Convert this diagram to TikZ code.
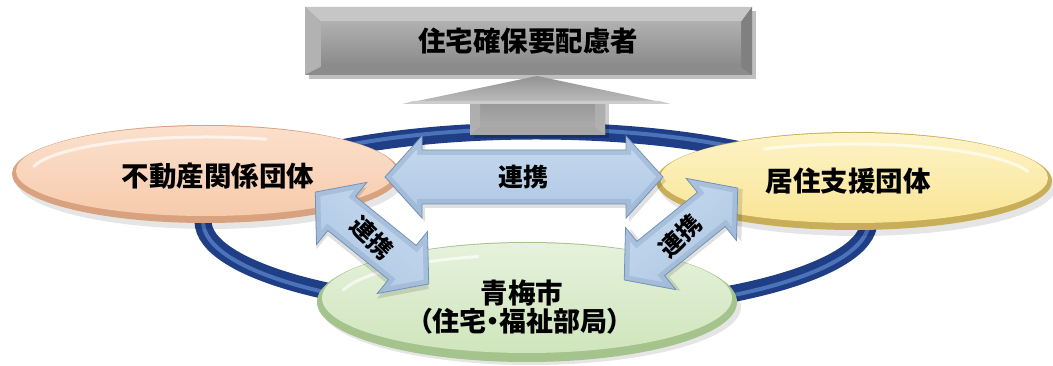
\documentclass[tikz,border=0pt]{standalone}
\usepackage{fontspec}
\newfontfamily\jp{Noto Sans CJK JP}
\newfontfamily\jpp{Noto Sans CJK JP}[RawFeature=+palt]
\definecolor{ringdark}{HTML}{1F3E85}
\definecolor{ringlight}{HTML}{5A85CC}
\definecolor{boxbase}{HTML}{7A7A7A}
\definecolor{peachhi}{HTML}{FBE0CD}
\definecolor{peachmid}{HTML}{F7CBAC}
\definecolor{peachrim}{HTML}{D9A27F}
\definecolor{yelhi}{HTML}{FDF3C6}
\definecolor{yelmid}{HTML}{F9E595}
\definecolor{yelrim}{HTML}{C9AE5A}
\definecolor{grnhi}{HTML}{E6F2DC}
\definecolor{grnmid}{HTML}{CFE5BC}
\definecolor{grnrim}{HTML}{A5C38C}
\definecolor{arrowtop}{HTML}{C6DAEF}
\definecolor{arrowmid}{HTML}{EDF4FB}
\definecolor{arrowbot}{HTML}{AFC7E3}
\definecolor{arrowedge}{HTML}{92ADCD}
\definecolor{arrowline}{HTML}{7492B6}
\tikzset{
  lbl/.style={font=\jp\bfseries\fontsize{27.5}{30}\selectfont, text=black, inner sep=0pt},
  smalllbl/.style={font=\jp\bfseries\fontsize{24}{28}\selectfont, text=black, inner sep=0pt},
  ellshadow/.style={fill=black, opacity=0.10},
  hilite/.style={draw=white, line width=3pt, opacity=0.65, line cap=round},
}
% double arrow: center x, center y, angle, half length, shaft half width, head half width, head length
\newcommand\bluearrow[7]{%
\begin{scope}[shift={(#1,#2)},rotate=#3]
  \fill[black, opacity=0.12, shift={(3,-4)}] (-#4,0) -- (-#4+#7,#6) -- (-#4+#7,#5) -- (#4-#7,#5) -- (#4-#7,#6) -- (#4,0) -- (#4-#7,-#6) -- (#4-#7,-#5) -- (-#4+#7,-#5) -- (-#4+#7,-#6) -- cycle;
  \shade[top color=arrowtop, middle color=arrowmid, bottom color=arrowbot, shading angle=#3] (-#4,0) -- (-#4+#7,#6) -- (-#4+#7,#5) -- (#4-#7,#5) -- (#4-#7,#6) -- (#4,0) -- (#4-#7,-#6) -- (#4-#7,-#5) -- (-#4+#7,-#5) -- (-#4+#7,-#6) -- cycle;
  \begin{scope}
    \clip (-#4,0) -- (-#4+#7,#6) -- (-#4+#7,#5) -- (#4-#7,#5) -- (#4-#7,#6) -- (#4,0) -- (#4-#7,-#6) -- (#4-#7,-#5) -- (-#4+#7,-#5) -- (-#4+#7,-#6) -- cycle;
    \draw[line width=10pt, arrowedge, opacity=0.5, line join=miter] (-#4,0) -- (-#4+#7,#6) -- (-#4+#7,#5) -- (#4-#7,#5) -- (#4-#7,#6) -- (#4,0) -- (#4-#7,-#6) -- (#4-#7,-#5) -- (-#4+#7,-#5) -- (-#4+#7,-#6) -- cycle;
  \end{scope}
  \draw[arrowline, line width=0.8pt, line join=miter] (-#4,0) -- (-#4+#7,#6) -- (-#4+#7,#5) -- (#4-#7,#5) -- (#4-#7,#6) -- (#4,0) -- (#4-#7,-#6) -- (#4-#7,-#5) -- (-#4+#7,-#5) -- (-#4+#7,-#6) -- cycle;
\end{scope}}
\begin{document}
\begin{tikzpicture}[x=1pt,y=1pt]
\useasboundingbox (0,0) rectangle (1053,366);
\fill[white] (0,0) rectangle (1053,366);

% ---- ring ----
\draw[line width=17pt, ringdark] (536,145) ellipse [x radius=333, y radius=90];
\draw[line width=4pt, ringlight, opacity=0.75] (536,145) ellipse [x radius=333, y radius=92];

% ---- gray box ----
\fill[black, opacity=0.25] (309,287) rectangle (756,355);
\fill[boxbase] (305,291) rectangle (752,359);
\fill[gray!45] (305,359) -- (752,359) -- (741,344) -- (321,344) -- cycle;
\fill[gray!60] (305,359) -- (321,344) -- (321,299) -- (305,291) -- cycle;
\fill[gray!110!black] (305,291) -- (321,299) -- (741,299) -- (752,291) -- cycle;
\fill[gray!100!black] (752,359) -- (741,344) -- (741,299) -- (752,291) -- cycle;
\shade[top color=gray!62, bottom color=gray!92] (321,299) rectangle (741,344);
\node[lbl] (target) at (528,325) {住宅確保要配慮者};

% ---- gray up arrow ----
\fill[black, opacity=0.2] (474,228) rectangle (609,262);
\shade[top color=gray!80, bottom color=gray!140!black] (470,231) rectangle (605,262);
\fill[gray!60, opacity=0.8] (470,231) -- (480,239) -- (480,262) -- (470,262) -- cycle;
\fill[gray!140!black, opacity=0.8] (605,231) -- (595,239) -- (595,262) -- (605,262) -- cycle;
\fill[gray!130!black, opacity=0.8] (470,231) -- (480,239) -- (595,239) -- (605,231) -- cycle;
\shade[top color=gray!85, bottom color=gray!150!black] (403,262) -- (537,290) -- (670,262) -- cycle;
\fill[gray!160!black] (403,262) -- (670,262) -- (660,265) -- (413,265) -- cycle;

% ---- left ellipse ----
\fill[ellshadow] (210,186) ellipse [x radius=194, y radius=49];
\fill[peachrim] (206,192) ellipse [x radius=194, y radius=49];
\shade[top color=peachhi, middle color=peachmid, bottom color=peachmid] (206,195) ellipse [x radius=190, y radius=45];
\draw[hilite] (206,192) ++(168:176 and 37) arc[start angle=168, end angle=70, x radius=176, y radius=37];
\node[lbl] (realestate) at (218,190) {不動産関係団体};

% ---- right ellipse ----
\fill[ellshadow] (858,179) ellipse [x radius=198, y radius=49];
\fill[yelrim] (854,185) ellipse [x radius=198, y radius=49];
\shade[top color=yelhi, middle color=yelmid, bottom color=yelmid] (854,188) ellipse [x radius=194, y radius=45];
\draw[hilite] (854,185) ++(120:180 and 37) arc[start angle=120, end angle=15, x radius=180, y radius=37];
\node[lbl] (support) at (848,185) {居住支援団体};

% ---- bottom ellipse ----
\fill[ellshadow] (531,59) ellipse [x radius=210, y radius=58];
\fill[grnrim] (527,64) ellipse [x radius=210, y radius=60];
\shade[top color=grnhi, middle color=grnmid, bottom color=grnmid] (527,68) ellipse [x radius=205, y radius=55];
\draw[hilite] (527,64) ++(165:190 and 47) arc[start angle=165, end angle=105, x radius=190, y radius=47];
\node[lbl] (city) at (522,73) {青梅市};
\node[lbl, font=\jpp\bfseries\fontsize{27}{30}\selectfont] (citysub) at (520,45) {（住宅・福祉部局）};

% ---- blue double arrows ----
\bluearrow{524}{189}{0}{139}{27}{41}{37}
\node[smalllbl, font=\jp\bfseries\fontsize{25}{28}\selectfont] (link1) at (523,189) {連携};

\bluearrow{372}{128}{-39}{73}{22}{40}{34}
\node[smalllbl, rotate=-44] (link2) at (372,128) {連携};

\bluearrow{681}{132}{39}{73}{22}{40}{34}
\node[smalllbl, rotate=44] (link3) at (680,130) {連携};

\end{tikzpicture}
\end{document}
